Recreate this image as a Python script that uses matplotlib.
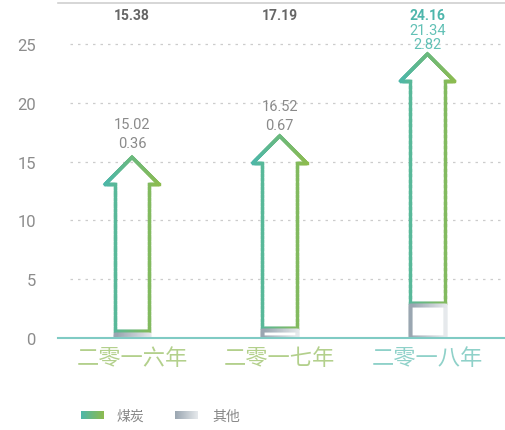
import matplotlib
matplotlib.use("Agg")
import matplotlib.pyplot as plt
from matplotlib.collections import LineCollection
from matplotlib.colors import LinearSegmentedColormap
import numpy as np

plt.rcParams["font.family"] = ["Roboto", "Noto Sans CJK SC", "DejaVu Sans"]

# data
years = ["二零一六年", "二零一七年", "二零一八年"]
coal = [15.02, 16.52, 21.34]
other = [0.36, 0.67, 2.82]
totals = [15.38, 17.19, 24.16]
yticks = [0, 5, 10, 15, 20, 25]
legend_names = ["煤炭", "其他"]

GRID = "#cccccc"
TICK = "#8c8c8c"
TEAL = "#4db6ac"
coal_cmap = LinearSegmentedColormap.from_list("coal", ["#4db7a9", "#8dbb4f"])
other_cmap = LinearSegmentedColormap.from_list("other", ["#9aa6b1", "#e6e9ec"])
label_colors = ["#b3d08c", "#b3d08c", "#8fd1c9"]

fig = plt.figure(figsize=(5.06, 4.31), dpi=100)
ax = fig.add_axes([58 / 506, 92 / 431, 448 / 506, 335 / 431])
ax.set_xlim(-0.501, 2.532)
ax.set_ylim(0, 28.5)

for s in ["left", "right"]:
    ax.spines[s].set_visible(False)
ax.spines["top"].set_color("#d0d0d0")
ax.spines["top"].set_linewidth(1.2)
ax.spines["bottom"].set_color("#80cbc4")
ax.spines["bottom"].set_linewidth(1.5)

for v in yticks[1:]:
    ax.axhline(v, xmin=0.027, xmax=1, color=GRID, lw=0.9, ls=(0, (2, 4)), zorder=1)

ax.set_yticks(yticks)
ax.set_yticklabels([str(v) for v in yticks], color=TICK, fontsize=12)
ax.tick_params(axis="y", length=0, pad=16)
ax.set_xticks(range(len(years)))
ax.set_xticklabels(years, fontsize=16, fontweight="light")
for lbl, c in zip(ax.get_xticklabels(), label_colors):
    lbl.set_color(c)
ax.tick_params(axis="x", length=0, pad=7)


def grad_outline(verts, cmap, lw=2.4, n=40):
    verts = np.asarray(verts + [verts[0]], dtype=float)
    segs, vals = [], []
    x0, x1 = verts[:, 0].min(), verts[:, 0].max()
    for a, b in zip(verts[:-1], verts[1:]):
        t = np.linspace(0, 1, n + 1)
        pts = a + (b - a) * t[:, None]
        for p, q in zip(pts[:-1], pts[1:]):
            segs.append([p, q])
            vals.append(((p[0] + q[0]) / 2 - x0) / (x1 - x0))
    lc = LineCollection(segs, cmap=cmap, linewidths=lw, capstyle="projecting", zorder=2)
    lc.set_array(np.array(vals))
    lc.set_clim(0, 1)
    ax.add_collection(lc)


w, hw, hh, gap = 0.117, 0.182, 2.3, 0.2
for i in range(len(years)):
    c = i
    b = other[i] + gap
    t = totals[i]
    arrow = [(c - w, b), (c + w, b), (c + w, t - hh), (c + hw, t - hh),
             (c, t), (c - hw, t - hh), (c - w, t - hh)]
    grad_outline(arrow, coal_cmap)
    rect = [(c - w, 0.05), (c + w, 0.05), (c + w, other[i]), (c - w, other[i])]
    grad_outline(rect, other_cmap)

# value labels above the arrows
low_off = [14, 11, 10]
spacing = [19, 19, 14]
top_y = 1 - 12 / 335
for i in range(len(years)):
    col1 = "#8a8a8a" if i < 2 else "#62c1b6"
    ax.annotate(f"{other[i]:.2f}", (i, totals[i]), xytext=(0, low_off[i] * 0.72),
                textcoords="offset points", ha="center", va="center", fontsize=10.5, color=col1)
    ax.annotate(f"{coal[i]:.2f}", (i, totals[i]), xytext=(0, (low_off[i] + spacing[i]) * 0.72),
                textcoords="offset points", ha="center", va="center", fontsize=10.5, color=col1)
    ax.text(i, top_y, f"{totals[i]:.2f}", transform=ax.get_xaxis_transform(), ha="center",
            va="center", fontsize=10, fontweight="bold", color="#666666" if i < 2 else TEAL)

# legend in pixel coords
lax = fig.add_axes([0, 0, 1, 1], zorder=-1)
lax.axis("off")
grad = np.linspace(0, 1, 64)[None, :]
lax.imshow(grad, cmap=coal_cmap, extent=(81, 104, 420.5, 413), aspect="auto")
lax.imshow(grad, cmap=other_cmap, extent=(175, 198, 420.5, 413), aspect="auto")
lax.set_xlim(0, 506)
lax.set_ylim(431, 0)
lax.text(117, 416.5, legend_names[0], fontsize=10, color="#888888", va="center")
lax.text(212, 416.5, legend_names[1], fontsize=10, color="#888888", va="center")

fig.savefig("out.png", dpi=100, facecolor="white")
